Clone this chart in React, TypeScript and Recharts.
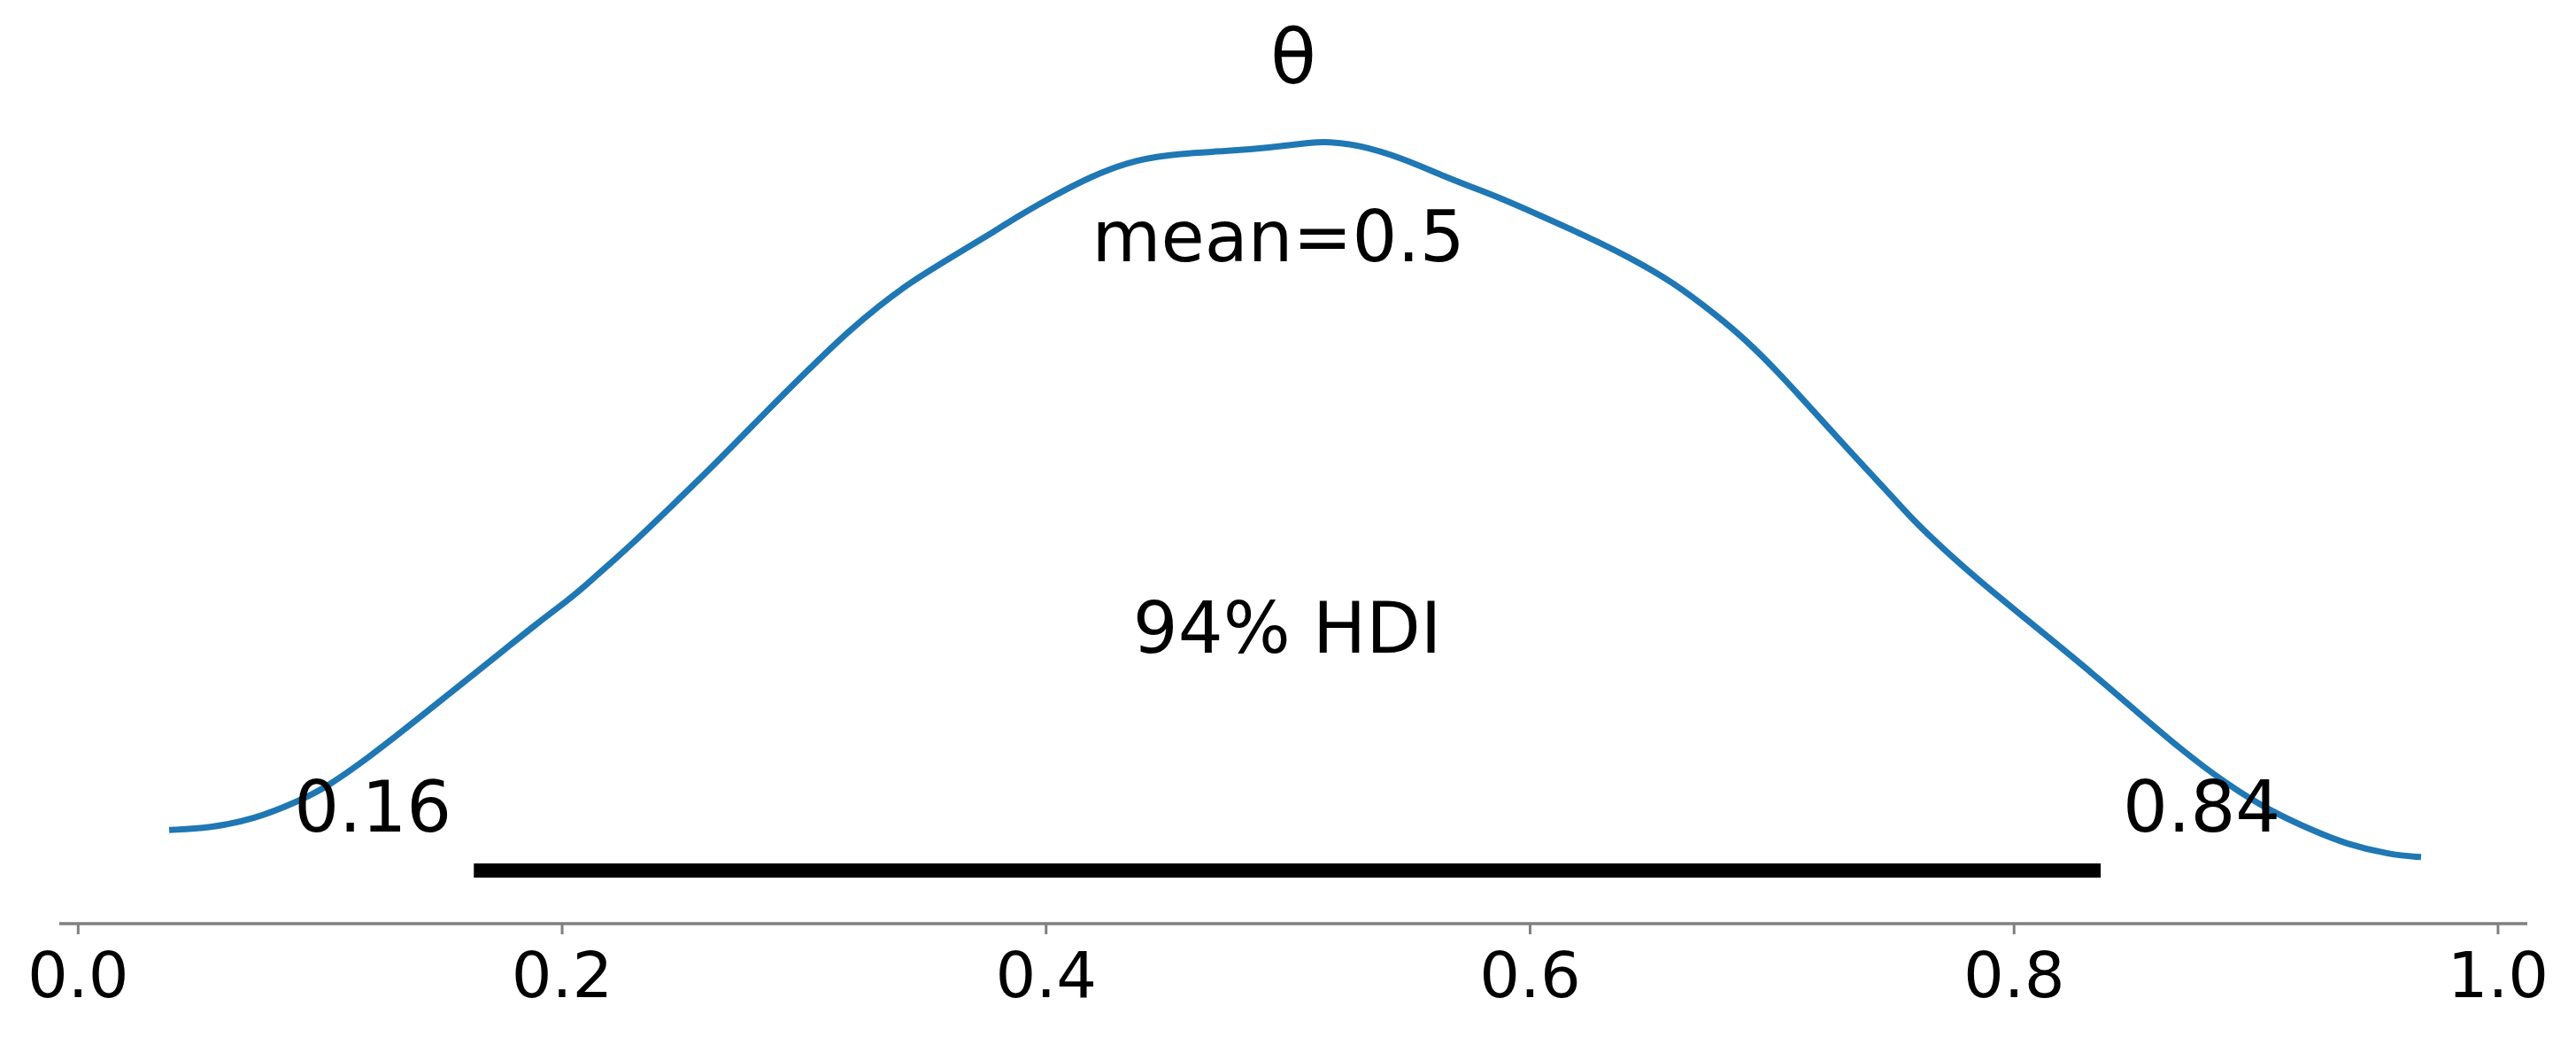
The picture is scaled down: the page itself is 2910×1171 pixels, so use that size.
import React from 'react';
import { ComposedChart, Line, XAxis, YAxis, ReferenceLine, ReferenceDot } from 'recharts';

// posterior KDE of theta
const thetaGrid = [
  0.0376, 0.0544, 0.0727, 0.091, 0.1031, 0.1202, 0.1336, 0.1519, 0.1641, 0.1763,
  0.1885, 0.2031, 0.2092, 0.2202, 0.2275, 0.2458, 0.2641, 0.2824, 0.3007, 0.3189,
  0.3311, 0.3433, 0.3616, 0.3799, 0.3884, 0.4006, 0.4189, 0.4372, 0.4555, 0.4738,
  0.4921, 0.5103, 0.5165, 0.5286, 0.5469, 0.5652, 0.5786, 0.586, 0.6042, 0.6225,
  0.6408, 0.6591, 0.6774, 0.6896, 0.7018, 0.714, 0.7262, 0.7384, 0.7505, 0.7591,
  0.7774, 0.7957, 0.8139, 0.8322, 0.8505, 0.8688, 0.8871, 0.9054, 0.9237, 0.9371,
  0.9554, 0.9682,
];
const density = [
  0.235, 0.24, 0.262, 0.307, 0.344, 0.418, 0.481, 0.57, 0.629, 0.688,
  0.748, 0.815, 0.846, 0.906, 0.945, 1.051, 1.159, 1.273, 1.384, 1.49,
  1.551, 1.607, 1.675, 1.742, 1.775, 1.818, 1.877, 1.918, 1.933, 1.938,
  1.947, 1.961, 1.962, 1.955, 1.922, 1.873, 1.842, 1.825, 1.777, 1.727,
  1.673, 1.61, 1.525, 1.462, 1.388, 1.307, 1.225, 1.144, 1.066, 1.007,
  0.903, 0.81, 0.72, 0.629, 0.533, 0.438, 0.353, 0.284, 0.233, 0.2,
  0.173, 0.167,
];
const tickValues = [0, 0.2, 0.4, 0.6, 0.8, 1.0];
const hdiBounds = [0.1635, 0.8358];
const hdiLabels = ['0.16', '0.84'];
const meanValue = 0.496;
const meanText = 'mean=0.5';
const hdiText = '94% HDI';
const title = 'θ';

const kde = thetaGrid.map((x, i) => ({ x, y: density[i] }));

const xDomain: [number, number] = [-0.0078, 1.0121];
const yDomain: [number, number] = [0, 2.2];
const FONT = 'DejaVu Sans';

const textShape =
  (text: string, size: number, anchor: 'start' | 'middle' | 'end', dx = 0, dy = 0) =>
  (p: any) => (
    <text x={p.cx + dx} y={p.cy + dy} textAnchor={anchor} fontSize={size} fontFamily={FONT} fill="#000">
      {text}
    </text>
  );

const AxisTick = ({ x, y, payload }: any) => (
  <text x={x} y={y} dy={51} textAnchor="middle" fontSize={72} fontFamily={FONT} fill="#000">
    {Number(payload.value).toFixed(1)}
  </text>
);

export default function App() {
  const hdiMid = (hdiBounds[0] + hdiBounds[1]) / 2;
  return (
    <div style={{ position: 'absolute', left: 0, top: 0, background: '#fff' }}>
      <ComposedChart
        width={2910}
        height={1171}
        data={kde}
        margin={{ top: 53, right: 55, bottom: 28, left: 67 }}
      >
        <XAxis
          type="number"
          dataKey="x"
          domain={xDomain}
          allowDataOverflow
          ticks={tickValues}
          height={100}
          tickSize={12}
          tickMargin={20}
          axisLine={{ stroke: '#808080', strokeWidth: 3.3 }}
          tickLine={{ stroke: '#808080', strokeWidth: 3 }}
          tick={<AxisTick />}
        />
        <YAxis type="number" domain={yDomain} allowDataOverflow hide />
        <Line
          type="basis"
          dataKey="y"
          stroke="#1f77b4"
          strokeWidth={7}
          dot={false}
          activeDot={false}
          isAnimationActive={false}
        />
        <ReferenceLine
          segment={[
            { x: hdiBounds[0], y: 0.1333 },
            { x: hdiBounds[1], y: 0.1333 },
          ]}
          stroke="#000"
          strokeWidth={16}
          ifOverflow="visible"
        />
        <ReferenceDot x={hdiBounds[0]} y={0.2311} r={0} ifOverflow="visible" shape={textShape(hdiLabels[0], 80, 'end', -25)} />
        <ReferenceDot x={hdiBounds[1]} y={0.2311} r={0} ifOverflow="visible" shape={textShape(hdiLabels[1], 80, 'start', 25)} />
        <ReferenceDot x={hdiMid} y={0.68} r={0} ifOverflow="visible" shape={textShape(hdiText, 80, 'middle')} />
        <ReferenceDot x={meanValue} y={1.662} r={0} ifOverflow="visible" shape={textShape(meanText, 80, 'middle')} />
        <ReferenceDot
          x={(xDomain[0] + xDomain[1]) / 2}
          y={yDomain[1]}
          r={0}
          ifOverflow="visible"
          shape={textShape(title, 85, 'middle', 0, 41)}
        />
      </ComposedChart>
    </div>
  );
}
